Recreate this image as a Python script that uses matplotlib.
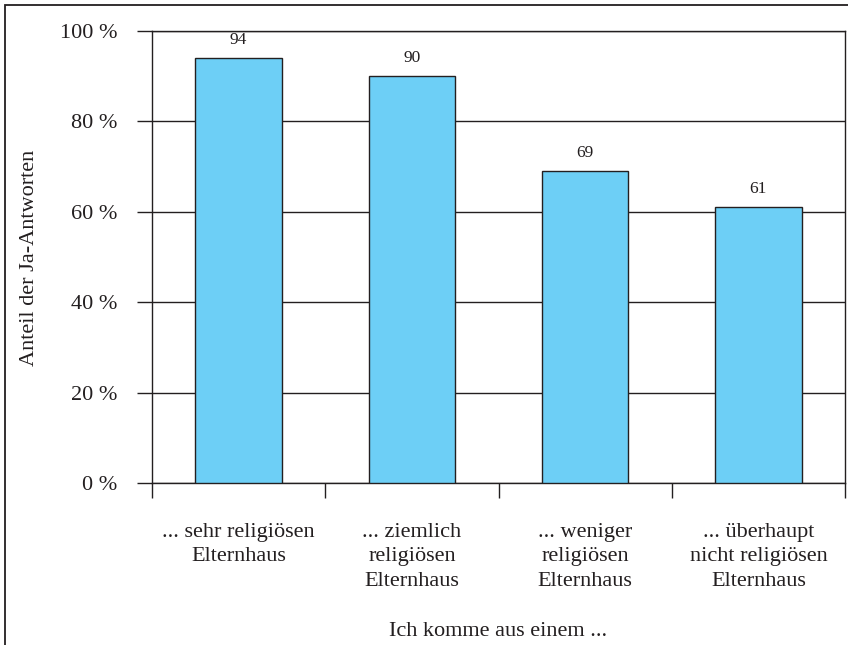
import matplotlib.pyplot as plt
from matplotlib.patches import Rectangle

plt.rcParams['font.family'] = ['Liberation Serif', 'DejaVu Serif']

categories = ['... sehr religiösen\nElternhaus',
              '... ziemlich\nreligiösen\nElternhaus',
              '... weniger\nreligiösen\nElternhaus',
              '... überhaupt\nnicht religiösen\nElternhaus']
values = [94, 90, 69, 61]
yticks = [0, 20, 40, 60, 80, 100]

ink = '#231f20'
fs = 16

fig = plt.figure(figsize=(8.48, 6.45), dpi=100)
ax = fig.add_axes([152 / 848, 1 - 483 / 645, 693 / 848, 452 / 645])

# outer frame around the whole figure (cut off at right/bottom)
fig.patches.append(Rectangle((5 / 848, -0.1), 1.2, 1 - 5 / 645 + 0.1,
                             transform=fig.transFigure, fill=False,
                             edgecolor=ink, linewidth=1.3))

x = range(len(values))
ax.bar(x, values, width=0.5, color='#6dcff6', edgecolor=ink, linewidth=1.0, zorder=3)

for xi, v in zip(x, values):
    ax.text(xi, v + 4, str(v), ha='center', va='center', fontsize=12.5, color=ink)

ax.set_xlim(-0.5, len(values) - 0.5)
ax.set_ylim(0, 100)
ax.set_yticks(yticks)
ax.set_yticklabels([f'{t} %' for t in yticks], fontsize=fs, color=ink)
ax.yaxis.grid(True, color=ink, linewidth=1.0, zorder=1)
ax.tick_params(axis='y', length=11, width=1.0, color=ink, pad=14)

# category labels between boundary ticks
ax.set_xticks([i - 0.5 for i in range(len(values) + 1)])
ax.set_xticklabels([])
ax.tick_params(axis='x', length=11, width=1.0, color=ink)
for xi, lab in zip(x, categories):
    ax.text(xi, -8.8, lab, ha='center', va='top', fontsize=fs, color=ink,
            linespacing=1.4)

for s in ax.spines.values():
    s.set_color(ink)
    s.set_linewidth(1.0)

fig.text(30 / 848, 1 - 258 / 645, 'Anteil der Ja-Antworten', rotation=90,
         ha='center', va='center', fontsize=fs, color=ink)
fig.text(498 / 848, 1 - 632 / 645, 'Ich komme aus einem ...',
         ha='center', va='center', fontsize=fs, color=ink)

fig.savefig('out.png', dpi=100)
